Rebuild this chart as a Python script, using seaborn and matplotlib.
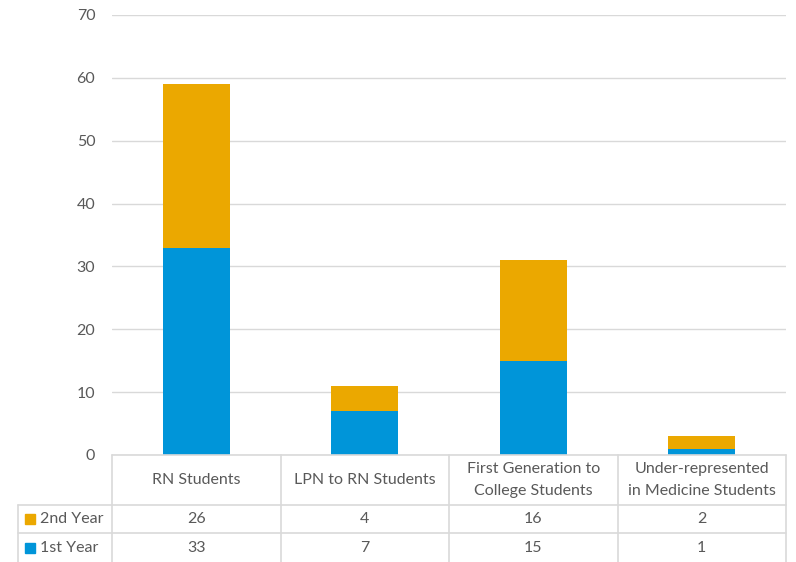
import numpy as np
import pandas as pd
import matplotlib
matplotlib.use("Agg")
import matplotlib.pyplot as plt
import seaborn as sns

categories = ["RN Students", "LPN to RN Students",
              "First Generation to\nCollege Students",
              "Under-represented\nin Medicine Students"]
first_year = [33, 7, 15, 1]
second_year = [26, 4, 16, 2]
series_names = ["2nd Year", "1st Year"]
yticks = [0, 10, 20, 30, 40, 50, 60, 70]

orange = "#EBA800"
blue = "#0095D9"
grid_c = "#D9D9D9"
text_c = "#595959"

sns.set_theme(style="white")
plt.rcParams["font.family"] = ["Lato", "DejaVu Sans"]

W, H = 796, 562
fig = plt.figure(figsize=(W / 100, H / 100), dpi=100)

# plot area in pixels
px0, px1, py0, py1 = 112, 786, 15, 455
ax = fig.add_axes([px0 / W, 1 - py1 / H, (px1 - px0) / W, (py1 - py0) / H])

df = pd.DataFrame({"cat": categories,
                   "total": np.array(first_year) + np.array(second_year),
                   "first": first_year})
sns.barplot(data=df, x="cat", y="total", color=orange, saturation=1,
            width=0.4, linewidth=0, ax=ax)
sns.barplot(data=df, x="cat", y="first", color=blue, saturation=1,
            width=0.4, linewidth=0, ax=ax)

ax.set_xlim(-0.5, len(categories) - 0.5)
ax.set_ylim(0, 70)
ax.set_yticks(yticks)
ax.yaxis.grid(True, color=grid_c, linewidth=1)
ax.set_axisbelow(True)
for s in ax.spines.values():
    s.set_visible(False)
ax.set_xlabel("")
ax.set_ylabel("")
ax.set_xticks([])
ax.tick_params(axis="y", length=0, pad=12, labelsize=11.5, labelcolor=text_c)

# data table below the plot
tax = fig.add_axes([0, 0, 1, 1])
tax.set_xlim(0, W)
tax.set_ylim(H, 0)
tax.axis("off")

colw = (px1 - px0) / len(categories)
row_h = py1 + 50
row1 = row_h + 28
row2 = H - 0.5
lx = 18
lkw = dict(color=grid_c, linewidth=1.2)

tax.plot([px0, px1], [py1, py1], **lkw)
for y in (row_h, row1):
    tax.plot([lx, px1], [y, y], **lkw)
tax.plot([lx, lx], [row_h, row2], **lkw)
for i in range(len(categories) + 1):
    x = px0 + i * colw
    tax.plot([x, x], [py1, row2], **lkw)

fs = 11.5
for i, c in enumerate(categories):
    cx = px0 + (i + 0.5) * colw
    tax.text(cx, (py1 + row_h) / 2, c, ha="center", va="center",
             fontsize=fs, color=text_c, linespacing=1.75)
    tax.text(cx, (row_h + row1) / 2, str(second_year[i]), ha="center",
             va="center", fontsize=fs, color=text_c)
    tax.text(cx, (row1 + H) / 2, str(first_year[i]), ha="center",
             va="center", fontsize=fs, color=text_c)

for name, col, (ya, yb) in zip(series_names, [orange, blue],
                               [(row_h, row1), (row1, H)]):
    ym = (ya + yb) / 2
    tax.add_patch(plt.Rectangle((25, ym - 5), 10, 10, color=col))
    tax.text(40, ym, name, ha="left", va="center", fontsize=fs, color=text_c)

fig.savefig("out.png", dpi=100)
